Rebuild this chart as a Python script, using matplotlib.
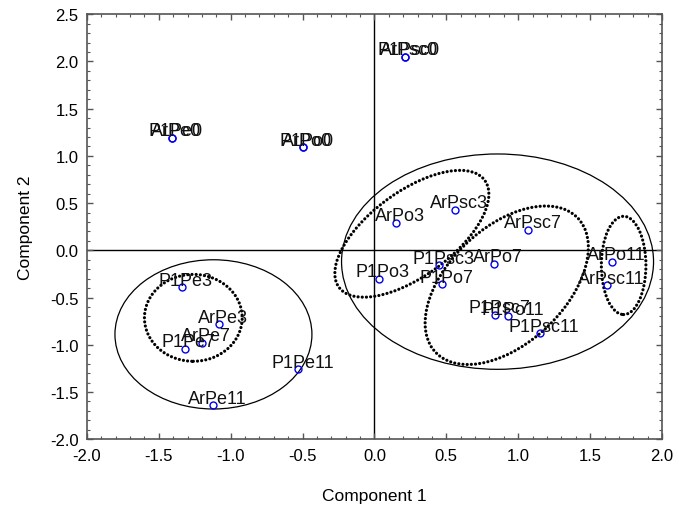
import numpy as np
import matplotlib
matplotlib.use("Agg")
import matplotlib.pyplot as plt
from matplotlib.patches import Ellipse
from matplotlib.ticker import MultipleLocator, AutoMinorLocator

plt.rcParams['font.family'] = ['Liberation Sans', 'DejaVu Sans']
plt.rcParams['axes.unicode_minus'] = False

# sample scores on the first two components
names = ["ArPsc0", "P1Psc0", "ArPe0", "P1Pe0", "ArPo0", "P1Po0",
         "ArPo3", "ArPsc3", "ArPsc7", "ArPo7", "P1Psc3", "P1Po3", "P1Po7",
         "ArPo11", "ArPsc11", "P1Psc7", "P1Po11", "P1Psc11",
         "P1Pe3", "ArPe3", "ArPe7", "P1Pe7", "ArPe11", "P1Pe11"]
comp1 = [0.21, 0.21, -1.41, -1.41, -0.50, -0.50,
         0.15, 0.56, 1.07, 0.83, 0.45, 0.03, 0.47,
         1.65, 1.62, 0.84, 0.93, 1.15,
         -1.34, -1.08, -1.20, -1.32, -1.12, -0.53]
comp2 = [2.05, 2.05, 1.19, 1.19, 1.09, 1.09,
         0.29, 0.43, 0.22, -0.14, -0.16, -0.30, -0.36,
         -0.12, -0.37, -0.68, -0.70, -0.88,
         -0.39, -0.78, -0.98, -1.04, -1.64, -1.26]

# cluster outlines: centre x, centre y, width, height, angle
solid_groups = [(-1.12, -0.89, 1.37, 1.58, 0),
                (0.856, -0.12, 2.17, 2.28, 0)]
dotted_groups = [(-1.26, -0.715, 0.68, 0.92, 0),
                 (0.26, 0.175, 1.56, 0.72, 55),
                 (0.92, -0.37, 1.80, 0.93, 65),
                 (1.733, -0.16, 0.31, 1.04, 0)]

fig = plt.figure(figsize=(6.79, 5.06), dpi=100)
ax = fig.add_axes([0.128, 0.130, 0.847, 0.840])

ax.axhline(0, color='black', lw=1, zorder=1)
ax.axvline(0, color='black', lw=1, zorder=1)

for cx, cy, w, h, a in solid_groups:
    ax.add_patch(Ellipse((cx, cy), w, h, angle=a, fill=False,
                         edgecolor='black', lw=0.9, zorder=2))
for cx, cy, w, h, a in dotted_groups:
    e = Ellipse((cx, cy), w, h, angle=a, fill=False, edgecolor='black',
                lw=2.3, linestyle=(0, (0.01, 1.3)), zorder=2)
    e.set_capstyle('round')
    ax.add_patch(e)

ax.plot(comp1, comp2, 'o', ms=5, mfc='none', mec='#0000ee', mew=1,
        zorder=3)
for n, x, y in zip(names, comp1, comp2):
    ax.annotate(n, (x, y), xytext=(3, 5), textcoords='offset points',
                ha='center', va='center', fontsize=13, color='#111111',
                zorder=4)

ax.set_xlim(-2.0, 2.0)
ax.set_ylim(-2.0, 2.5)
ax.xaxis.set_major_locator(MultipleLocator(0.5))
ax.yaxis.set_major_locator(MultipleLocator(0.5))
ax.xaxis.set_minor_locator(AutoMinorLocator(5))
ax.yaxis.set_minor_locator(AutoMinorLocator(5))
ax.xaxis.set_major_formatter('{x:.1f}')
ax.yaxis.set_major_formatter('{x:.1f}')
ax.tick_params(which='both', direction='in', top=True, right=True,
               color='#555555', labelsize=12)
ax.tick_params(which='major', length=4, width=1, pad=6)
ax.tick_params(which='minor', length=2, width=0.8)
for s in ax.spines.values():
    s.set_color('#555555')
    s.set_linewidth(1.2)

ax.set_xlabel("Component 1", fontsize=12.5, labelpad=18)
ax.set_ylabel("Component 2", fontsize=12.5, labelpad=12)

fig.savefig("out.png", dpi=100)
